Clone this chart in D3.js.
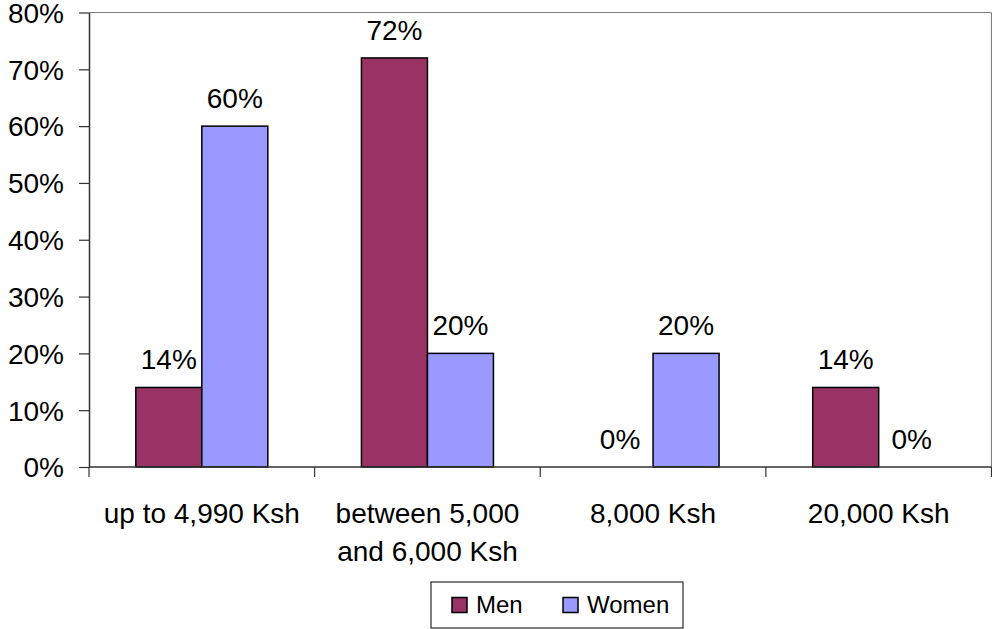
<!DOCTYPE html>
<html>
<head>
<meta charset="utf-8">
<script src="https://cdn.jsdelivr.net/npm/d3@7"></script>
<style>
  body { margin: 0; background: #fff; }
  svg { display: block; font-family: "Liberation Sans", Arial, sans-serif; }
</style>
</head>
<body>
<div id="chart"></div>
<script>
// Data
const categories = [["up to 4,990 Ksh"], ["between 5,000", "and 6,000 Ksh"], ["8,000 Ksh"], ["20,000 Ksh"]];
const seriesNames = ["Men", "Women"];
const menValues = [14, 72, 0, 14];
const womenValues = [60, 20, 20, 0];
const yTicks = [0, 10, 20, 30, 40, 50, 60, 70, 80];

const colors = { Men: "#993366", Women: "#9999ff" };

const W = 992, H = 629;
const margin = { top: 12.5, right: 0.5, bottom: 162, left: 89 };
const width = W - margin.left - margin.right;
const height = H - margin.top - margin.bottom;
const fontSize = "28px";

const svg = d3.select("#chart").append("svg")
    .attr("width", W)
    .attr("height", H);

const g = svg.append("g")
    .attr("transform", `translate(${margin.left},${margin.top})`);

const catKeys = categories.map(c => c.join(" "));

// Scales
const x = d3.scaleBand().domain(catKeys).range([0, width]).paddingInner(0).paddingOuter(0);
const xsub = d3.scaleBand().domain(seriesNames).range([0, 132]);
const y = d3.scaleLinear().domain([0, 80]).range([height, 0]);

// Plot border (top and right)
g.append("line").attr("x1", 0).attr("x2", width).attr("y1", 0).attr("y2", 0)
    .attr("stroke", "#808080").attr("stroke-width", 1.2);
g.append("line").attr("x1", width).attr("x2", width).attr("y1", 0).attr("y2", height)
    .attr("stroke", "#808080").attr("stroke-width", 1.2);

// Bars
const rows = catKeys.map((k, i) => ({ key: k, values: [
    { series: "Men", value: menValues[i] },
    { series: "Women", value: womenValues[i] }
]}));

const groups = g.selectAll("g.cat").data(rows).enter().append("g")
    .attr("class", "cat")
    .attr("transform", d => `translate(${x(d.key) + (x.bandwidth() - 132) / 2},0)`);

groups.selectAll("rect")
    .data(d => d.values.filter(v => v.value > 0))
    .enter().append("rect")
    .attr("x", d => xsub(d.series))
    .attr("y", d => y(d.value))
    .attr("width", xsub.bandwidth())
    .attr("height", d => height - y(d.value))
    .attr("fill", d => colors[d.series])
    .attr("stroke", "#000")
    .attr("stroke-width", 1.5);

groups.selectAll("text")
    .data(d => d.values)
    .enter().append("text")
    .attr("x", d => xsub(d.series) + xsub.bandwidth() / 2)
    .attr("y", d => y(d.value) - 18)
    .attr("text-anchor", "middle")
    .attr("font-size", fontSize)
    .attr("fill", "#000")
    .text(d => d.value + "%");

// Y axis
const yAxis = g.append("g")
    .call(d3.axisLeft(y).tickValues(yTicks).tickSize(10).tickSizeOuter(0).tickFormat(d => d + "%"));
yAxis.select(".domain").attr("stroke", "#333").attr("stroke-width", 1.5);
yAxis.selectAll(".tick line").attr("stroke", "#333").attr("stroke-width", 1.2);
yAxis.selectAll(".tick text")
    .attr("x", -25)
    .attr("dy", "0.35em")
    .attr("font-size", fontSize)
    .attr("font-family", "'Liberation Sans', Arial, sans-serif")
    .attr("fill", "#000");

// X axis
const xAxis = g.append("g")
    .attr("transform", `translate(0,${height})`);
xAxis.append("line").attr("x1", 0).attr("x2", width).attr("stroke", "#333").attr("stroke-width", 1.5);
const bounds = catKeys.map(k => x(k)).concat([width]);
xAxis.selectAll("line.tk").data(bounds).enter().append("line")
    .attr("class", "tk")
    .attr("x1", d => d).attr("x2", d => d)
    .attr("y1", 0).attr("y2", 10)
    .attr("stroke", "#333").attr("stroke-width", 1.2);

const catLabels = xAxis.selectAll("text.cat").data(categories).enter().append("text")
    .attr("class", "cat")
    .attr("text-anchor", "middle")
    .attr("font-size", fontSize)
    .attr("fill", "#000")
    .attr("transform", (d, i) => `translate(${x(catKeys[i]) + x.bandwidth() / 2},${56})`);
catLabels.selectAll("tspan").data(d => d).enter().append("tspan")
    .attr("x", 0)
    .attr("dy", (d, i) => i === 0 ? 0 : 38)
    .text(d => d);

// Legend
const legend = svg.append("g").attr("transform", "translate(431,582)");
legend.append("rect").attr("width", 252).attr("height", 46)
    .attr("fill", "#fff").attr("stroke", "#000").attr("stroke-width", 1);
const legendX = [21, 132];
const items = legend.selectAll("g.item").data(seriesNames).enter().append("g")
    .attr("class", "item")
    .attr("transform", (d, i) => `translate(${legendX[i]},0)`);
items.append("rect")
    .attr("x", 0).attr("y", 15.5)
    .attr("width", 15).attr("height", 15)
    .attr("fill", d => colors[d])
    .attr("stroke", "#000").attr("stroke-width", 1.5);
items.append("text")
    .attr("x", 24).attr("y", 30.5)
    .attr("font-size", "24px")
    .attr("fill", "#000")
    .text(d => d);
</script>
</body>
</html>
